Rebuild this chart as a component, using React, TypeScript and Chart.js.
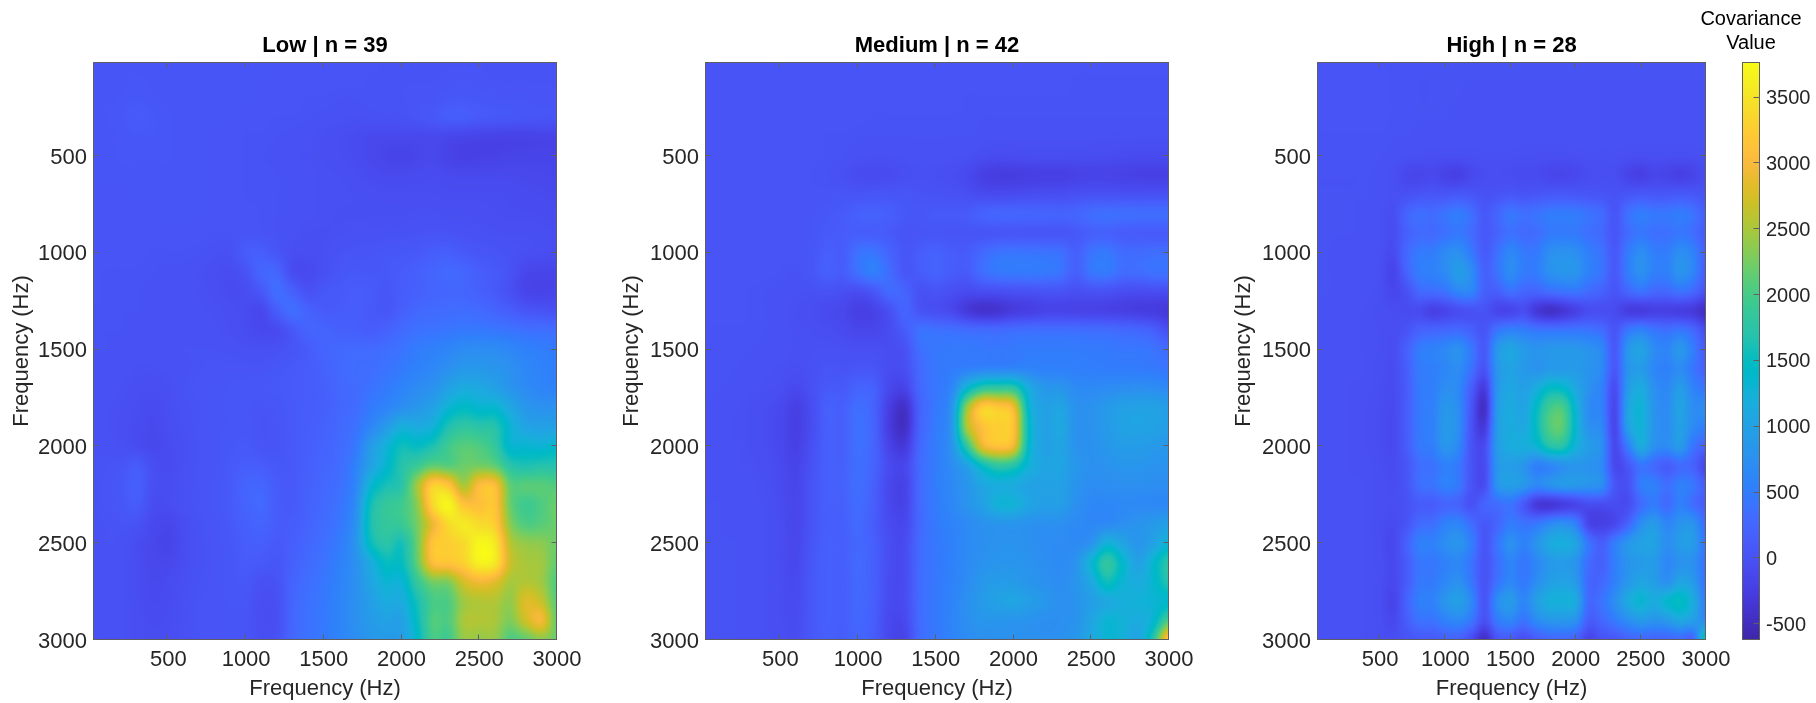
import React, { useEffect, useRef } from "react";
import { Chart, registerables } from "chart.js";

Chart.register(...registerables);

const frequencies = [0,100,200,300,400,500,600,700,800,900,1000,1100,1200,1300,1400,1500,1600,1700,1800,1900,2000,2100,2200,2300,2400,2500,2600,2700,2800,2900,3000];
const frequencyTicks = [500, 1000, 1500, 2000, 2500, 3000];
const colorbarTicks = [-500, 0, 500, 1000, 1500, 2000, 2500, 3000, 3500];
const axisLabel = "Frequency (Hz)";
const colorbarTitle = ["Covariance", "Value"];
const panelTitles = ["Low | n = 39", "Medium | n = 42", "High | n = 28"];

const lowCovariance = [
[40,40,40,40,40,40,40,40,40,40,40,40,30,30,30,30,30,30,30,20,20,20,20,20,20,20,20,20,20,20,20],
[40,40,40,50,40,40,40,40,40,40,40,40,30,30,30,30,30,30,20,20,20,20,20,30,30,30,20,20,20,20,20],
[40,40,50,70,50,40,40,40,40,40,40,30,30,30,20,20,10,10,20,20,20,30,40,70,80,60,50,40,40,30,30],
[40,45,70,110,80,50,40,40,40,40,30,30,20,20,10,0,-10,-20,-10,0,0,30,70,130,130,90,70,60,50,40,30],
[40,40,50,70,70,50,40,40,30,30,20,20,10,0,-10,-30,-50,-70,-100,-110,-110,-110,-100,-130,-150,-170,-180,-180,-180,-170,-170],
[40,40,50,50,50,50,40,40,30,30,20,10,0,-10,-20,-30,-50,-70,-110,-150,-170,-140,-110,-170,-210,-200,-190,-170,-170,-160,-160],
[40,40,40,40,40,40,40,40,30,30,20,20,10,0,-10,-20,-30,-50,-70,-90,-90,-80,-70,-90,-100,-100,-100,-100,-110,-120,-130],
[30,30,30,40,40,40,40,40,30,30,20,20,10,0,-10,-20,-20,-30,-40,-50,-50,-50,-50,-60,-60,-60,-60,-70,-80,-90,-100],
[30,30,30,30,30,40,40,40,30,30,30,20,10,0,-10,-20,-30,-30,-30,-30,-30,-20,-20,-30,-30,-40,-50,-60,-60,-70,-80],
[30,30,30,30,30,30,30,30,20,20,40,30,10,-10,-30,-30,-20,-10,-10,0,0,10,30,20,0,-10,-20,-30,-30,-40,-50],
[30,30,30,30,20,20,20,10,-10,-10,130,150,50,-40,-50,-20,10,30,40,60,70,90,140,160,100,50,30,0,-30,-50,-60],
[30,20,20,20,10,0,0,-20,-50,-60,20,240,230,-60,-90,-20,50,80,70,80,120,170,230,280,240,150,100,0,-130,-150,-150],
[30,20,20,10,0,0,-10,-20,-40,-70,-50,80,330,180,0,70,100,130,110,60,130,180,230,250,240,180,100,-20,-150,-170,-160],
[20,20,10,10,0,0,0,-10,-20,-40,-70,-110,150,330,200,120,120,140,100,60,170,270,300,320,330,300,230,150,60,30,0],
[20,10,10,0,0,0,0,-10,-10,-30,-60,-100,-80,80,220,220,180,170,140,200,300,380,400,430,460,460,440,400,360,350,320],
[10,10,0,0,0,0,10,10,10,0,-10,-20,0,40,120,230,270,290,300,340,400,500,550,620,700,720,700,640,560,520,480],
[10,0,0,-20,-20,-10,0,20,30,30,30,30,60,100,130,200,280,320,340,400,480,570,640,760,860,870,830,760,640,580,530],
[10,0,-20,-40,-50,-30,10,30,40,50,60,70,80,110,130,170,260,300,390,480,590,700,780,1000,1150,1100,1000,820,700,620,580],
[0,-10,-30,-60,-80,-40,0,20,40,50,50,30,50,100,130,170,250,320,480,600,750,850,1000,1300,1450,1350,1350,1100,850,780,780],
[0,-10,-40,-70,-100,-50,-10,20,40,50,60,20,40,100,140,200,280,380,620,900,1200,1150,1250,1650,1800,1750,1700,1300,1050,1000,1000],
[0,0,-20,-60,-110,-70,-30,20,40,70,90,40,40,100,150,220,300,450,900,1250,1550,1500,1650,1950,2100,2050,1850,1350,1350,1300,1400],
[10,20,40,120,-40,-70,-20,20,40,90,140,130,80,90,170,240,320,550,1000,1350,1700,1900,2150,2100,2200,2250,2150,1750,1650,1700,1700],
[10,30,80,170,-30,-60,-10,20,50,110,230,240,120,100,180,270,360,600,1300,1600,1750,2450,3250,3150,2500,3050,3050,2150,2100,2100,2050],
[10,30,60,120,-60,-60,-10,20,50,110,220,280,130,100,200,290,400,680,1550,1850,1950,2350,3350,3700,3150,3100,3150,2200,1950,2050,2200],
[0,10,20,10,-100,-130,-50,10,40,90,170,220,130,130,220,320,440,750,1600,1850,1900,2250,2900,3400,3550,3400,3250,2350,2050,2100,2200],
[0,10,0,-60,-120,-160,-60,0,30,70,140,150,100,160,260,360,500,800,1500,1750,1600,2200,3150,3250,3400,3700,3550,2600,2400,2350,2200],
[0,0,-10,-60,-120,-120,-50,0,30,60,110,90,70,180,300,400,550,750,1150,1500,1500,2150,3050,3150,3300,3650,3550,2700,2500,2450,2150],
[0,0,-10,-60,-100,-80,-30,10,30,60,70,-10,20,220,340,440,580,750,1050,1300,1300,1850,2250,2300,2750,2950,2850,2500,2550,2450,2050],
[0,0,-10,-50,-90,-70,-20,20,30,50,40,-40,-10,240,370,460,600,750,950,1150,1150,1600,2000,2050,2450,2550,2550,2400,2800,2650,2100],
[0,0,-10,-40,-70,-60,-20,20,30,40,30,-50,-20,250,380,470,600,750,900,1000,1000,1500,2050,2050,2500,2550,2500,2300,2700,2950,2150],
[0,0,-10,-40,-60,-50,-10,20,30,40,30,-30,0,260,380,470,600,720,850,900,950,1400,2000,1950,2400,2400,2400,2050,2150,2350,2200],
];

const mediumCovariance = [
[30,30,30,30,30,30,30,30,30,30,30,30,30,30,30,30,30,30,30,30,30,30,30,30,30,30,30,30,30,30,30],
[30,30,30,30,30,30,30,30,30,30,30,30,30,30,30,30,30,30,30,30,30,30,30,30,20,20,20,20,20,20,20],
[30,30,30,30,30,30,30,30,30,30,30,30,30,30,30,30,30,20,20,20,20,20,20,20,20,20,20,20,20,20,20],
[30,30,30,30,30,30,30,30,30,30,30,20,20,20,20,20,20,20,10,10,10,10,10,10,10,10,10,10,10,10,10],
[30,30,30,30,30,30,30,30,20,20,10,10,10,10,10,10,10,10,0,-10,-10,-10,-10,-10,-10,-10,-20,-20,-20,-20,-20],
[30,30,30,30,30,30,30,30,20,10,-10,-20,-20,-10,0,0,-10,-20,-60,-80,-70,-60,-60,-60,-60,-60,-70,-80,-90,-90,-90],
[30,30,30,30,30,30,30,20,10,-20,-70,-80,-70,-40,-20,-30,-50,-100,-210,-250,-250,-230,-220,-220,-190,-170,-170,-190,-200,-210,-210],
[30,30,30,30,30,30,30,30,30,40,40,50,50,40,20,10,0,-30,-70,-80,-70,-50,-40,-40,-10,10,10,0,0,0,0],
[30,30,30,30,30,30,30,40,70,110,170,200,150,80,70,90,90,110,200,240,240,230,220,210,240,320,360,340,330,330,330],
[30,30,30,30,30,30,30,50,100,120,150,140,110,30,40,50,40,40,40,50,60,50,50,50,80,170,190,130,120,110,110],
[30,30,30,30,30,30,30,60,150,130,380,420,230,60,140,190,130,120,280,400,420,410,400,370,180,400,460,320,310,340,340],
[30,30,30,30,30,20,10,60,170,130,370,530,320,70,130,200,130,110,330,450,470,480,460,400,170,420,470,320,320,380,380],
[30,30,30,20,10,0,-10,-10,0,-30,-50,60,290,220,0,30,-30,-80,-60,-40,-10,0,30,20,-30,0,0,-50,-70,-50,-60],
[30,30,30,20,10,0,-30,-50,-90,-120,-220,-180,-20,230,30,-30,-100,-290,-390,-360,-260,-220,-160,-150,-170,-170,-180,-210,-240,-260,-310],
[20,20,20,20,10,0,-20,-30,-50,-80,-130,-130,-60,130,380,370,350,320,300,290,330,340,340,340,330,320,310,280,250,170,-50],
[20,20,20,10,0,0,-20,-20,-10,-20,-30,-30,-60,0,350,440,470,480,460,450,470,490,500,500,490,480,470,440,440,400,300],
[20,20,10,0,-10,-20,-40,-10,30,20,50,40,-60,-40,290,440,500,560,620,620,630,610,560,560,540,530,520,510,500,480,420],
[20,10,0,-10,-20,-40,-110,-20,100,100,220,180,-120,-170,270,440,620,1350,1800,1850,1800,1150,860,840,690,670,700,730,750,720,680],
[10,0,-10,-30,-50,-100,-210,-60,170,160,340,200,-230,-420,200,460,790,2400,3250,3200,2950,1350,1000,1050,780,780,880,980,1000,1000,950],
[10,0,-20,-30,-60,-120,-230,-60,170,170,370,220,-260,-440,220,490,830,2500,3100,3250,3100,1450,1000,1100,790,780,900,1010,1030,1000,950],
[10,0,-10,-30,-50,-110,-200,-30,170,170,360,230,-170,-290,270,500,790,1800,2850,3100,2900,1400,1000,1050,800,770,850,920,920,880,850],
[10,0,-10,-20,-40,-90,-160,0,170,180,340,220,-80,-130,300,500,700,1000,1500,1800,1700,1250,1050,1050,850,770,790,830,830,800,780],
[10,0,0,-10,-30,-80,-140,20,170,190,340,180,-120,-170,290,500,660,830,1080,1180,1150,1020,1000,1000,800,720,730,750,750,730,720],
[10,10,0,-10,-20,-70,-130,20,160,170,310,160,-110,-160,290,490,640,800,980,1250,1250,1050,960,950,760,660,650,670,670,660,660],
[10,10,0,0,-20,-60,-130,20,150,160,290,130,-70,-110,280,470,580,680,780,820,830,780,760,750,680,650,680,740,800,880,980],
[10,10,10,0,-20,-60,-120,40,170,160,260,170,-50,-70,310,450,550,680,750,790,800,760,720,700,680,800,1250,1050,830,1020,1300],
[10,10,10,0,-20,-60,-110,60,170,160,280,170,-50,-60,310,440,560,680,780,820,830,790,740,700,800,1300,1800,1400,1000,1350,1750],
[10,10,10,0,-20,-50,-90,70,170,150,270,170,-60,-60,320,450,570,700,850,920,900,830,770,720,820,1100,1550,1300,1150,1350,1700],
[10,10,10,0,-20,-50,-80,70,170,150,270,160,-70,-50,320,460,590,760,900,1000,1050,950,850,760,800,950,1100,1200,1250,1300,1400],
[10,10,10,0,-20,-50,-70,70,170,150,260,150,-110,-100,310,460,600,740,830,830,820,790,750,750,800,1050,1300,1250,1150,1350,2050],
[10,10,10,0,-20,-40,-60,70,160,140,240,130,-120,-150,300,450,590,700,750,760,770,760,750,770,850,1100,1300,1250,1050,1750,3300],
];

const highCovariance = [
[20,20,20,20,20,20,20,20,20,10,10,10,10,10,10,10,10,10,10,10,10,10,10,10,10,10,10,10,10,10,10],
[20,30,30,30,30,30,20,20,10,10,10,10,10,10,10,10,10,10,10,10,10,10,10,10,10,10,10,10,10,10,10],
[20,30,30,30,30,30,20,20,10,10,10,10,0,0,0,0,0,0,0,0,0,0,0,0,0,0,0,0,0,0,0],
[20,30,30,30,30,30,20,20,10,10,10,0,0,0,0,0,-10,-10,-10,-10,-10,-10,-10,-10,-10,-10,-10,-10,-10,-10,-10],
[20,20,20,20,20,20,10,10,0,0,0,0,0,-10,-10,-10,-10,-10,-10,-10,-10,-10,-10,-10,-10,-10,-10,-10,-10,-10,-10],
[20,20,20,20,20,10,0,-20,-30,-30,-40,-40,-30,-20,-20,-20,-30,-30,-40,-40,-30,-20,-20,-20,-40,-50,-40,-40,-50,-40,-20],
[10,10,10,10,10,0,-30,-120,-140,-110,-180,-210,-110,-60,-50,-60,-80,-80,-130,-140,-110,-60,-40,-50,-160,-210,-140,-160,-210,-160,-50],
[10,10,10,10,10,0,-20,-10,40,60,60,90,60,0,30,70,40,60,90,100,80,60,40,10,60,100,80,80,110,80,20],
[10,10,10,10,0,-10,-40,220,340,310,410,500,350,90,250,440,350,400,490,500,490,400,300,50,360,510,450,450,500,400,150],
[10,10,10,10,0,-10,-50,170,300,290,380,460,320,90,220,380,300,340,470,490,470,360,280,50,310,450,370,370,440,350,120],
[10,10,0,0,0,-20,-80,260,480,500,680,750,480,120,370,640,480,470,730,780,740,530,390,90,480,720,530,520,730,580,170],
[10,10,0,0,-10,-30,-160,200,500,550,680,920,700,200,400,700,500,500,750,820,800,560,400,100,500,750,550,550,800,600,150],
[10,10,0,0,-10,-30,-130,-10,270,320,400,620,600,180,170,360,250,230,330,390,420,300,200,40,240,390,270,270,390,270,-20],
[10,0,0,-10,-20,-40,-60,-70,-80,-210,-150,-50,0,10,-140,-150,-50,-310,-430,-340,-200,-60,-50,-80,-240,-270,-210,-210,-240,-290,-470],
[10,0,0,-10,-20,-30,-50,20,200,240,270,300,180,50,420,560,510,430,420,420,430,400,320,50,430,580,420,360,440,270,-70],
[10,0,0,-10,-20,-30,-50,170,490,560,650,760,460,100,850,1060,900,800,860,870,860,790,640,90,820,1020,700,610,860,520,110],
[10,0,-10,-10,-20,-40,-60,140,480,520,630,700,380,30,820,1020,880,800,880,900,900,800,650,80,780,920,640,560,700,450,170],
[10,0,-10,-20,-20,-50,-70,120,470,530,720,660,150,-260,820,1070,980,1180,1450,1420,1100,780,560,-50,880,1150,760,650,930,600,420],
[0,0,-10,-20,-30,-60,-80,130,470,550,840,700,50,-430,880,1130,1050,1450,1950,2000,1300,700,560,-110,1000,1270,810,700,1020,720,700],
[0,0,-10,-20,-30,-60,-90,130,470,560,880,720,20,-280,900,1150,1100,1500,2050,2100,1350,780,640,-120,950,1250,820,700,980,680,520],
[0,0,-10,-20,-30,-60,-90,120,450,530,820,640,30,-60,900,1150,1180,1290,1680,1700,1230,940,730,-100,500,1140,760,680,890,420,200],
[0,0,-10,-20,-20,-50,-70,40,330,380,550,450,30,-60,830,950,830,550,620,770,830,780,650,-100,50,420,290,130,300,210,-150],
[0,0,-10,-10,-20,-40,-60,40,340,400,560,460,30,-40,800,950,850,650,770,880,860,800,700,50,0,500,550,350,550,440,130],
[0,0,-10,-10,-20,-40,-50,0,120,130,240,200,0,220,320,410,100,-290,-340,-250,-150,-60,-60,-60,-60,310,500,300,550,350,120],
[0,0,-10,-10,-20,-50,-80,30,300,350,550,600,330,80,250,500,400,450,650,750,550,-140,-210,-110,220,710,900,620,810,800,310],
[0,0,-10,-10,-20,-50,-110,180,530,560,720,820,520,50,420,760,560,800,1100,1180,1020,420,150,510,830,1000,1020,720,920,900,420],
[0,0,-10,-10,-20,-40,-100,110,430,440,560,640,400,30,340,600,440,640,860,920,800,330,180,520,800,900,900,650,780,740,380],
[0,0,-10,-10,-20,-40,-110,120,440,480,640,760,450,30,400,640,470,720,950,1020,880,270,270,560,850,1050,950,760,1050,900,400],
[0,0,-10,-10,-20,-50,-160,190,530,560,830,960,650,40,700,900,620,950,1200,1220,1120,300,400,720,1120,1320,1150,1350,1480,1150,520],
[0,0,-10,-10,-20,-40,-110,130,380,400,550,650,430,-20,470,620,400,680,830,850,760,150,260,480,720,880,800,880,1080,940,700],
[0,0,-10,-10,-20,-30,-40,20,80,90,180,180,-80,-470,30,90,-60,120,240,260,180,-160,-10,50,190,260,210,220,280,240,1750],
];

const matrices = [lowCovariance, mediumCovariance, highCovariance];

// MATLAB parula colour map, style table
const PARULA = [
[.2422,.1504,.6603],[.2504,.165,.7076],[.2578,.1818,.7511],[.2647,.1978,.7952],[.2706,.2147,.8364],[.2751,.2342,.871],[.2783,.2559,.8991],[.2803,.2782,.9221],
[.2813,.3006,.9414],[.281,.3228,.9579],[.2795,.3447,.9717],[.276,.3667,.9829],[.2699,.3892,.9906],[.2602,.4123,.9952],[.244,.4358,.9988],[.2206,.4603,.9973],
[.1963,.4847,.9892],[.1834,.5074,.9798],[.1786,.5289,.9682],[.1764,.5499,.952],[.1687,.5703,.9359],[.154,.5902,.9218],[.146,.6091,.9079],[.138,.6276,.8973],
[.1248,.6459,.8883],[.1113,.6635,.8763],[.0952,.6798,.8598],[.0689,.6948,.8394],[.0297,.7082,.8163],[.0036,.7203,.7917],[.0067,.7312,.766],[.0433,.7411,.7394],
[.0964,.75,.712],[.1408,.7584,.6842],[.1717,.767,.6554],[.1938,.7758,.6251],[.2161,.7843,.5923],[.247,.7918,.5567],[.2906,.7973,.5188],[.3406,.8008,.4789],
[.3909,.8029,.4354],[.4456,.8024,.3909],[.5044,.7993,.348],[.5616,.7942,.3045],[.6174,.7876,.2612],[.672,.7793,.2227],[.7242,.7698,.191],[.7738,.7598,.1646],
[.8203,.7498,.1535],[.8634,.7406,.1596],[.9035,.733,.1774],[.9393,.7288,.21],[.9728,.7298,.2394],[.9956,.7434,.2371],[.997,.7659,.2199],[.9952,.7861,.1996],
[.9892,.8134,.1885],[.9786,.8386,.1766],[.9676,.8639,.1643],[.9610,.8890,.1537],[.9597,.9135,.1423],[.9628,.9373,.1265],[.9691,.9606,.1064],[.9769,.9839,.0805],
];

const C_MIN = -620, C_MAX = 3770;
const FONT = "'Liberation Sans', Arial, Helvetica, sans-serif";
const TEXT = "#262626";
const FRAME = "#5f5f5f";

function colorAt(v: number): number[] {
  let t = (v - C_MIN) / (C_MAX - C_MIN);
  t = Math.max(0, Math.min(1, t)) * (PARULA.length - 1);
  const i = Math.min(PARULA.length - 2, Math.floor(t));
  const f = t - i;
  return [0, 1, 2].map((k) => 255 * (PARULA[i][k] * (1 - f) + PARULA[i + 1][k] * f));
}

function cr(p0: number, p1: number, p2: number, p3: number, t: number) {
  return 0.5 * (2 * p1 + (p2 - p0) * t + (2 * p0 - 5 * p1 + 4 * p2 - p3) * t * t + (3 * p1 - p0 - 3 * p2 + p3) * t * t * t);
}

function sample(m: number[][], xv: number, yv: number) {
  const n = frequencies.length;
  const step = frequencies[1] - frequencies[0];
  const fx = Math.max(0, Math.min(n - 1.0001, xv / step));
  const fy = Math.max(0, Math.min(n - 1.0001, yv / step));
  const ix = Math.floor(fx), iy = Math.floor(fy);
  const tx = fx - ix, ty = fy - iy;
  const vals: number[] = [];
  for (let j = -1; j <= 2; j++) {
    const row = m[Math.max(0, Math.min(n - 1, iy + j))];
    const g = (k: number) => row[Math.max(0, Math.min(n - 1, ix + k))] ?? 0;
    vals.push(cr(g(-1), g(0), g(1), g(2), tx));
  }
  return cr(vals[0], vals[1], vals[2], vals[3], ty);
}

const heatPlugin = {
  id: "heat",
  beforeDatasetsDraw(chart: any) {
    const opts = chart.options.plugins.heat;
    const { left, right, top, bottom } = chart.chartArea;
    const l = Math.round(left), t = Math.round(top);
    const w = Math.round(right) - l, h = Math.round(bottom) - t;
    const off = document.createElement("canvas");
    off.width = w; off.height = h;
    const octx = off.getContext("2d")!;
    const img = octx.createImageData(w, h);
    const sx = chart.scales.x, sy = chart.scales.y;
    for (let py = 0; py < h; py++) {
      const yv = sy.getValueForPixel(t + py + 0.5);
      for (let px = 0; px < w; px++) {
        const val = opts.matrix ? sample(opts.matrix, sx.getValueForPixel(l + px + 0.5), yv) : yv;
        const c = colorAt(val);
        const o = (py * w + px) * 4;
        img.data[o] = c[0]; img.data[o + 1] = c[1]; img.data[o + 2] = c[2]; img.data[o + 3] = 255;
      }
    }
    octx.putImageData(img, 0, 0);
    chart.ctx.drawImage(off, l, t);
  },
  afterDraw(chart: any) {
    const opts = chart.options.plugins.heat;
    const { left, right, top, bottom } = chart.chartArea;
    const ctx = chart.ctx;
    const L = Math.round(left) + 0.5, R = Math.round(right) - 0.5, T = Math.round(top) + 0.5, B = Math.round(bottom) - 0.5;
    ctx.save();
    ctx.strokeStyle = FRAME;
    ctx.lineWidth = 1;
    ctx.strokeRect(L, T, R - L, B - T);
    ctx.beginPath();
    const len = 5;
    if (opts.matrix) {
      for (const v of frequencyTicks) {
        const x = Math.round(chart.scales.x.getPixelForValue(v)) - 0.5;
        ctx.moveTo(x, B); ctx.lineTo(x, B - len);
        ctx.moveTo(x, T); ctx.lineTo(x, T + len);
        const y = Math.round(chart.scales.y.getPixelForValue(v)) - 0.5;
        ctx.moveTo(L, y); ctx.lineTo(L + len, y);
        ctx.moveTo(R, y); ctx.lineTo(R - len, y);
      }
    } else {
      for (const v of colorbarTicks) {
        const y = Math.round(chart.scales.y.getPixelForValue(v)) - 0.5;
        ctx.moveTo(R, y); ctx.lineTo(R - 6, y);
      }
    }
    ctx.stroke();
    ctx.restore();
  },
};

const HEIGHT = 703;
const PLOT_TOP = 62;
const PLOT_BOTTOM = 640;
const panels = [
  { canvasLeft: 0, plotLeft: 93, plotRight: 557, canvasRight: 600 },
  { canvasLeft: 610, plotLeft: 705, plotRight: 1169, canvasRight: 1212 },
  { canvasLeft: 1222, plotLeft: 1317, plotRight: 1706, canvasRight: 1742 },
];

function makePanel(canvas: HTMLCanvasElement, idx: number) {
  const p = panels[idx];
  const matrix = matrices[idx];
  const points: { x: number; y: number; v: number }[] = [];
  matrix.forEach((row, r) => row.forEach((v, c) => points.push({ x: frequencies[c], y: frequencies[r], v })));
  const tickFont = { family: FONT, size: 22 };
  return new Chart(canvas, {
    type: "scatter",
    data: { datasets: [{ label: panelTitles[idx], data: points, pointRadius: 0, clip: true } as any] },
    plugins: [heatPlugin],
    options: {
      animation: false,
      responsive: false,
      devicePixelRatio: 1,
      events: [],
      layout: { padding: { left: 0, top: 0, bottom: 0, right: p.canvasRight - p.plotRight } },
      plugins: {
        legend: { display: false },
        tooltip: { enabled: false },
        title: {
          display: true,
          text: panelTitles[idx],
          fullSize: false,
          color: "#000",
          font: { family: FONT, size: 22, weight: "bold", lineHeight: 1.2 },
          padding: { top: 32.8, bottom: 2.8 },
        },
        heat: { matrix },
      } as any,
      scales: {
        x: {
          type: "linear", min: 15, max: 3000, position: "bottom",
          grid: { display: false, drawTicks: false }, border: { display: false },
          ticks: { color: TEXT, font: tickFont, padding: 7, maxRotation: 0, autoSkip: false, callback: (v: any) => String(v) },
          title: { display: true, text: axisLabel, color: TEXT, font: { family: FONT, size: 22, lineHeight: 1.2 }, padding: { top: 0, bottom: 1 } },
          afterBuildTicks: (a: any) => { a.ticks = frequencyTicks.map((value) => ({ value })); },
          afterFit: (a: any) => { a.height = HEIGHT - PLOT_BOTTOM; },
        },
        y: {
          type: "linear", min: 14, max: 3000, reverse: true, position: "left",
          grid: { display: false, drawTicks: false }, border: { display: false },
          ticks: { color: TEXT, font: tickFont, padding: 6, labelOffset: 1.5, autoSkip: false, callback: (v: any) => String(v) },
          title: { display: true, text: axisLabel, color: TEXT, font: { family: FONT, size: 22, lineHeight: 1.2 }, padding: { top: 9, bottom: 0 } },
          afterBuildTicks: (a: any) => { a.ticks = frequencyTicks.map((value) => ({ value })); },
          afterFit: (a: any) => { a.width = p.plotLeft - p.canvasLeft; },
        },
      },
    } as any,
  });
}

function makeColorbar(canvas: HTMLCanvasElement) {
  return new Chart(canvas, {
    type: "scatter",
    data: { datasets: [{ label: "Covariance Value", data: colorbarTicks.map((y) => ({ x: 0, y })), pointRadius: 0 } as any] },
    plugins: [heatPlugin],
    options: {
      animation: false,
      responsive: false,
      devicePixelRatio: 1,
      events: [],
      layout: { padding: { left: 0, right: 0, top: 0, bottom: HEIGHT - PLOT_BOTTOM } },
      plugins: {
        legend: { display: false },
        tooltip: { enabled: false },
        title: {
          display: true,
          text: colorbarTitle,
          color: "#000",
          font: { family: FONT, size: 20, weight: "normal", lineHeight: 1.2 },
          padding: { top: 7, bottom: 7 },
        },
        heat: { matrix: null },
      } as any,
      scales: {
        x: { type: "linear", display: false, min: 0, max: 1 },
        y: {
          type: "linear", position: "right", min: C_MIN, max: C_MAX,
          grid: { display: false, drawTicks: false }, border: { display: false },
          ticks: { color: TEXT, font: { family: FONT, size: 20 }, padding: 6, labelOffset: 1, autoSkip: false, callback: (v: any) => String(v) },
          afterBuildTicks: (a: any) => { a.ticks = colorbarTicks.map((value) => ({ value })); },
          afterFit: (a: any) => { a.width = 56; },
        },
        spacer: {
          type: "linear", axis: "y", position: "left", display: true,
          grid: { display: false, drawTicks: false }, border: { display: false },
          ticks: { display: false },
          afterFit: (a: any) => { a.width = 56; },
        },
      },
    } as any,
  });
}

export default function App() {
  const refs = [useRef<HTMLCanvasElement>(null), useRef<HTMLCanvasElement>(null), useRef<HTMLCanvasElement>(null)];
  const barRef = useRef<HTMLCanvasElement>(null);
  useEffect(() => {
    const charts = refs.map((r, i) => makePanel(r.current!, i));
    charts.push(makeColorbar(barRef.current!));
    return () => charts.forEach((c) => c.destroy());
  }, []);
  const abs = (left: number, width: number): React.CSSProperties => ({ position: "absolute", left, top: 0, width, height: HEIGHT, display: "block" });
  return (
    <div style={{ position: "fixed", left: 0, top: 0, width: 1816, height: HEIGHT, background: "#fff", overflow: "hidden" }}>
      {panels.map((p, i) => (
        <canvas key={i} ref={refs[i]} width={p.canvasRight - p.canvasLeft} height={HEIGHT} style={abs(p.canvasLeft, p.canvasRight - p.canvasLeft)} />
      ))}
      <canvas ref={barRef} width={130} height={HEIGHT} style={abs(1686, 130)} />
    </div>
  );
}
